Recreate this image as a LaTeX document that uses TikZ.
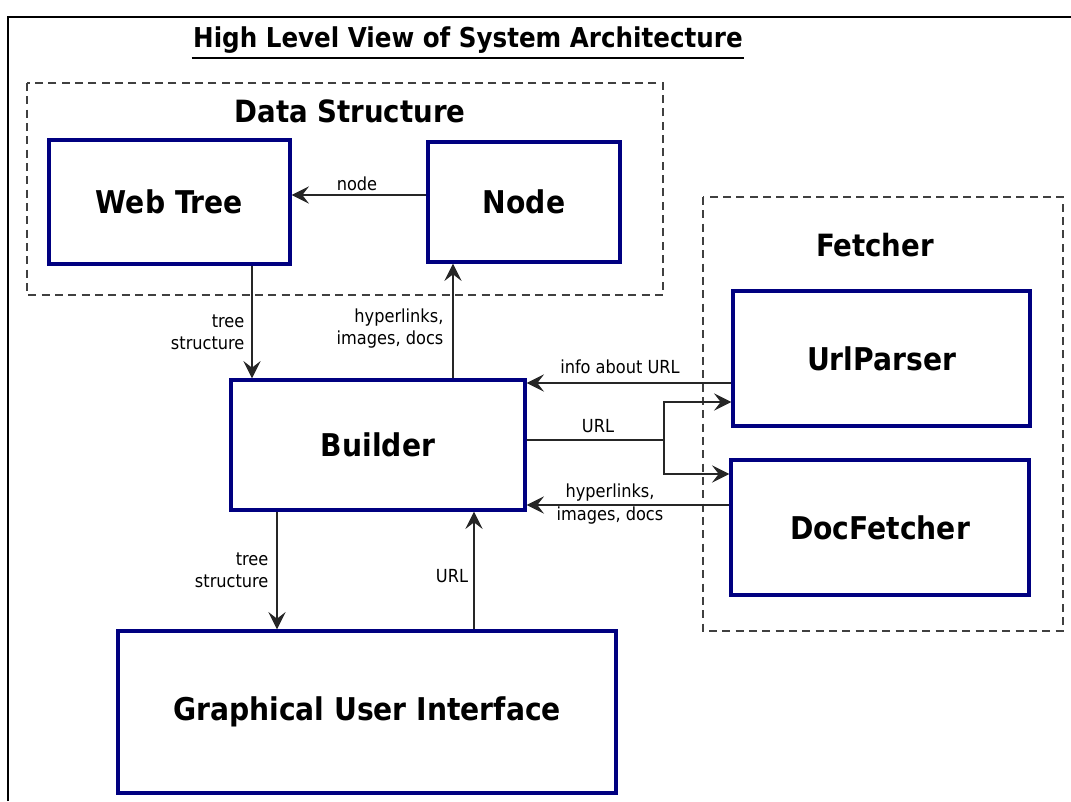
\documentclass[tikz,border=0pt]{standalone}
\usepackage{fontspec}
\setmainfont{DejaVu Sans Condensed}[BoldFont={DejaVu Sans Condensed Bold}]
\usetikzlibrary{arrows.meta}
\definecolor{boxblue}{RGB}{0,0,128}
\begin{document}
\begin{tikzpicture}[x=0.75pt,y=-0.75pt,
  box/.style={draw=boxblue,line width=2.5pt,rectangle,inner sep=0pt,
    font=\fontsize{23.5}{27}\selectfont\bfseries},
  grp/.style={draw=black!75,line width=0.9pt,dash pattern=on 6pt off 4pt},
  grptitle/.style={font=\fontsize{23}{27}\selectfont\bfseries},
  arr/.style={draw=black!85,line width=1.2pt,-{Stealth[length=13pt,width=13pt,inset=5pt]}},
  conn/.style={draw=black!85,line width=1.2pt},
  lbl/.style={font=\fontsize{13.5}{16.5}\selectfont,inner sep=1pt}]
\useasboundingbox (0,0) rectangle (1071,801);
% outer frame
\draw[line width=1.8pt] (8,801) -- (8,17) -- (1071,17);
% title
\node[font=\fontsize{20.5}{24}\selectfont\bfseries,inner sep=1pt] (title) at (468,40) {High Level View of System Architecture};
\draw[line width=1.6pt] ([yshift=-2pt]title.south west) -- ([yshift=-2pt]title.south east);
% groups
\draw[grp] (27,83) rectangle (663,295);
\node[grptitle] (dst) at (350,111) {Data Structure};
\draw[grp] (703,197) rectangle (1063,631);
\node[grptitle] (ftt) at (875,245) {Fetcher};
% boxes
\node[box,minimum width=241*0.75pt,minimum height=124*0.75pt] (wt) at (169.5,202) {Web Tree};
\node[box,minimum width=192*0.75pt,minimum height=120*0.75pt] (nd) at (524,202) {Node};
\node[box,minimum width=294*0.75pt,minimum height=130*0.75pt] (bld) at (378,445) {Builder};
\node[box,minimum width=297*0.75pt,minimum height=135*0.75pt] (up) at (881.5,358.5) {UrlParser};
\node[box,minimum width=298*0.75pt,minimum height=135*0.75pt] (df) at (880,527.5) {DocFetcher};
\node[box,minimum width=498*0.75pt,minimum height=162*0.75pt] (gui) at (367,712) {Graphical User Interface};
% connectors
\draw[arr] (nd.west |- 0,195) -- (wt.east |- 0,195);
\node[lbl] (lnode) at (357,184) {node};
\draw[arr] (wt.south -| 252,0) -- (bld.north -| 252,0);
\node[lbl,anchor=east,align=right] (lts1) at (246,332) {tree\\structure};
\draw[arr] (bld.north -| 453,0) -- (nd.south -| 453,0);
\node[lbl,anchor=east,align=right] (lhl1) at (445,329) {hyperlinks,\\images, docs};
\draw[arr] (up.west |- 0,383) -- (bld.east |- 0,383);
\node[lbl] (linfo) at (620,367) {info about URL};
\coordinate (split) at (664,440);
\draw[conn] (bld.east |- split) -- (split);
\draw[arr] (split) |- (up.west |- 0,402);
\draw[arr] (split) |- (df.west |- 0,474);
\node[lbl] (lurl) at (598,426) {URL};
\draw[arr] (df.west |- 0,505) -- (bld.east |- 0,505);
\node[lbl,align=center,font=\fontsize{13.5}{17.5}\selectfont] (lhl2) at (610,504) {hyperlinks,\\images, docs};
\draw[arr] (bld.south -| 277,0) -- (gui.north -| 277,0);
\node[lbl,anchor=east,align=right] (lts2) at (270,570) {tree\\structure};
\draw[arr] (gui.north -| 474,0) -- (bld.south -| 474,0);
\node[lbl] (lurl2) at (452,576) {URL};
\end{tikzpicture}
\end{document}
